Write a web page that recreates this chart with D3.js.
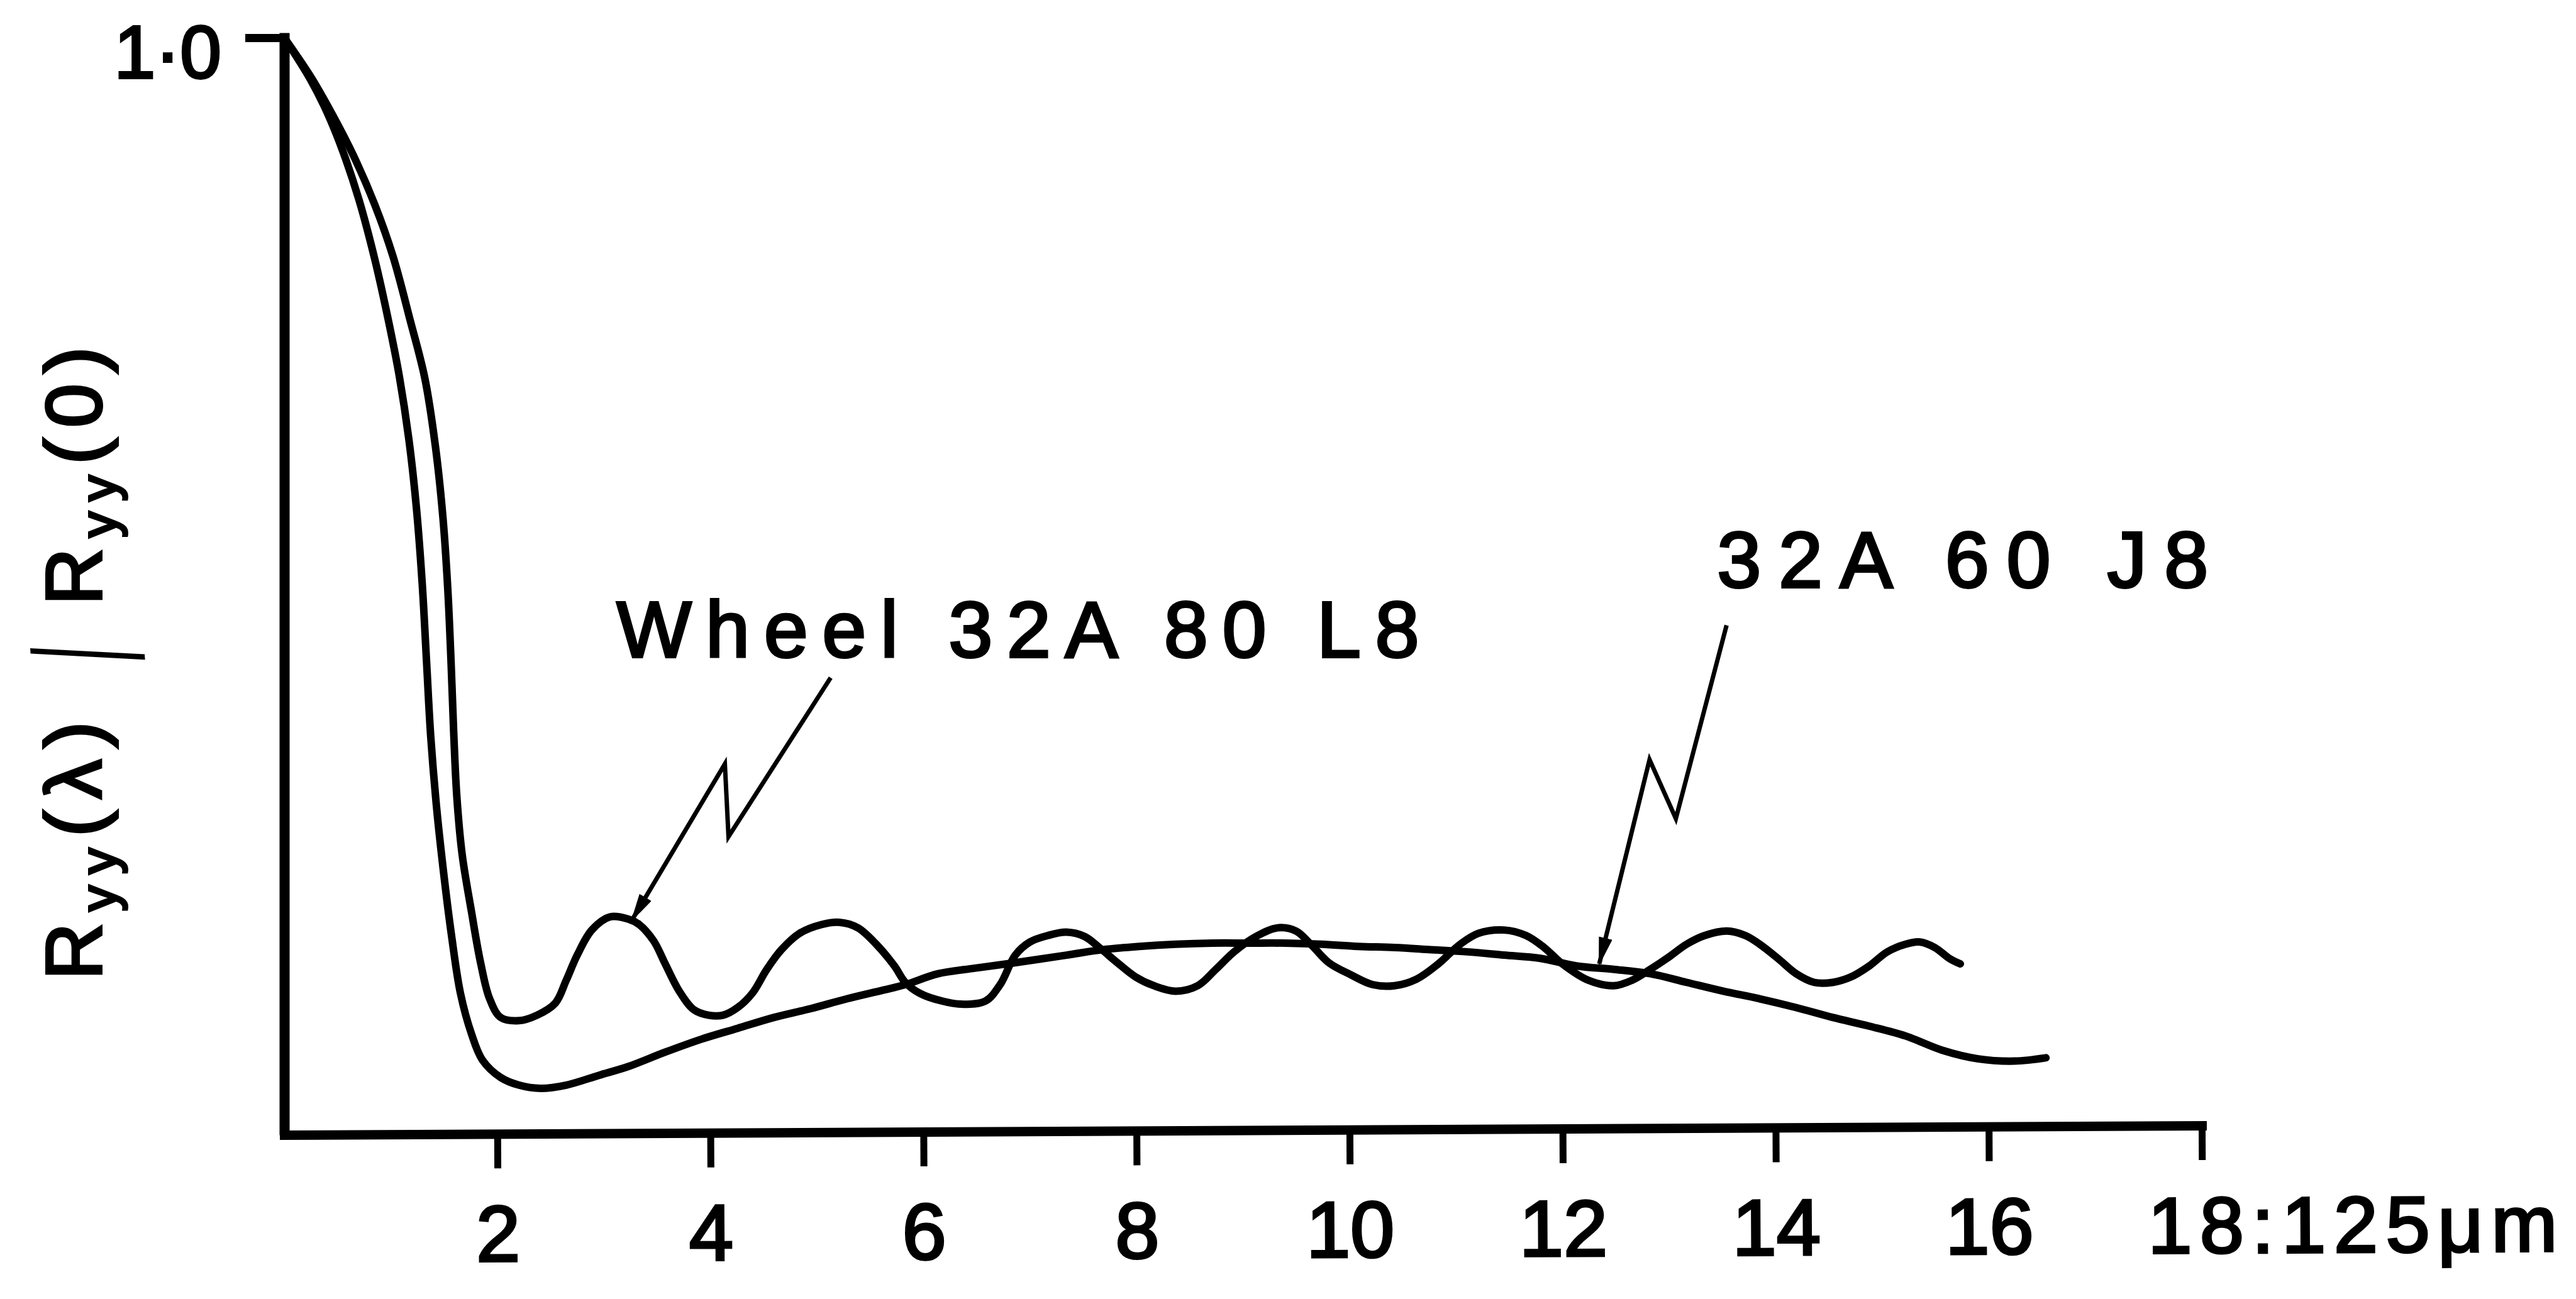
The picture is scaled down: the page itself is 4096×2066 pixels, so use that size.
<!DOCTYPE html>
<html>
<head>
<meta charset="utf-8">
<script src="https://cdn.jsdelivr.net/npm/d3@7"></script>
<style>
  html, body { margin: 0; padding: 0; background: #fff; }
  svg { display: block; }
</style>
</head>
<body>
<script>
const W = 4096, H = 2066;
const FONT = '"Liberation Sans", Arial, Helvetica, sans-serif';

// tick values / labels
const xTicks = [2, 4, 6, 8, 10, 12, 14, 16, 18];
const yTicks = [1];
const xEndLabel = '18:125μm';
const yTickLabel = '1·0';

// [lag, Ryy(λ)/Ryy(0)]
const wheel80L8 = [
  [0, 1.0], [0.25, 0.964], [0.45, 0.930], [0.65, 0.892], [0.85, 0.847], [1.02, 0.800],
  [1.18, 0.742], [1.32, 0.688], [1.42, 0.625], [1.49, 0.560], [1.535, 0.495], [1.565, 0.430],
  [1.59, 0.365], [1.62, 0.305], [1.67, 0.252], [1.757, 0.200], [1.843, 0.153], [1.928, 0.120],
  [2.031, 0.103], [2.202, 0.100], [2.373, 0.105], [2.544, 0.116], [2.647, 0.137], [2.750, 0.160],
  [2.887, 0.183], [3.058, 0.195], [3.229, 0.193], [3.332, 0.188], [3.468, 0.173], [3.571, 0.153],
  [3.708, 0.127], [3.845, 0.110], [3.982, 0.105], [4.119, 0.105], [4.256, 0.112], [4.393, 0.125],
  [4.530, 0.147], [4.667, 0.165], [4.838, 0.180], [5.043, 0.188], [5.214, 0.190], [5.385, 0.185],
  [5.557, 0.170], [5.728, 0.150], [5.830, 0.135], [5.967, 0.125], [6.173, 0.118], [6.378, 0.115],
  [6.583, 0.118], [6.720, 0.133], [6.862, 0.160], [6.999, 0.172], [7.170, 0.178], [7.342, 0.181],
  [7.513, 0.177], [7.650, 0.167], [7.821, 0.153], [7.992, 0.140], [8.163, 0.132], [8.368, 0.127],
  [8.574, 0.132], [8.745, 0.147], [8.916, 0.163], [9.121, 0.177], [9.327, 0.185], [9.498, 0.182],
  [9.635, 0.170], [9.806, 0.153], [10.012, 0.142], [10.217, 0.133], [10.422, 0.132], [10.628, 0.138],
  [10.833, 0.152], [11.039, 0.170], [11.210, 0.180], [11.449, 0.183], [11.655, 0.178], [11.826, 0.167],
  [11.997, 0.152], [12.241, 0.137], [12.481, 0.132], [12.652, 0.137], [12.823, 0.147], [12.994, 0.158],
  [13.165, 0.170], [13.336, 0.178], [13.542, 0.182], [13.713, 0.178], [13.850, 0.170], [14.021, 0.157],
  [14.192, 0.143], [14.363, 0.135], [14.534, 0.135], [14.706, 0.140], [14.877, 0.150], [15.048, 0.163],
  [15.219, 0.170], [15.356, 0.172], [15.493, 0.167], [15.630, 0.157], [15.733, 0.152]
];

const grit60J8 = [
  [0, 1.0], [0.25, 0.961], [0.40, 0.932], [0.55, 0.896], [0.70, 0.852], [0.85, 0.797],
  [0.98, 0.740], [1.08, 0.690], [1.17, 0.632], [1.24, 0.570], [1.295, 0.500], [1.335, 0.430],
  [1.375, 0.360], [1.43, 0.295], [1.50, 0.232], [1.57, 0.178], [1.654, 0.125], [1.757, 0.088],
  [1.860, 0.064], [2.031, 0.048], [2.202, 0.041], [2.407, 0.038], [2.647, 0.041], [2.955, 0.050],
  [3.229, 0.058], [3.571, 0.071], [3.914, 0.083], [4.256, 0.093], [4.598, 0.103], [4.940, 0.111],
  [5.283, 0.120], [5.625, 0.128], [5.830, 0.133], [6.138, 0.143], [6.481, 0.148], [6.857, 0.153],
  [7.342, 0.160], [7.684, 0.165], [8.026, 0.168], [8.368, 0.170], [8.711, 0.171], [9.053, 0.171],
  [9.395, 0.171], [9.737, 0.170], [10.080, 0.168], [10.422, 0.167], [10.765, 0.165], [11.107, 0.163],
  [11.449, 0.160], [11.792, 0.157], [12.138, 0.150], [12.481, 0.147], [12.823, 0.143], [13.165, 0.135],
  [13.507, 0.127], [13.850, 0.120], [14.192, 0.112], [14.534, 0.103], [14.877, 0.095], [15.219, 0.086],
  [15.561, 0.073], [15.904, 0.065], [16.246, 0.063], [16.537, 0.066]
];

const seriesNames = ['Wheel 32A 80 L8', '32A 60 J8'];

// annotations, in data units
const wheelLeader = [[5.129, 0.414], [4.170, 0.2685], [4.136, 0.335], [3.263, 0.192]];
const gritLeader = [[13.539, 0.462], [13.063, 0.285], [12.816, 0.339], [12.344, 0.152]];
const labelAt = [[3.12, 0.433], [13.45, 0.497]];
const labelWidth = [1276, 781];

const svg = d3.select('body').append('svg')
  .attr('width', W)
  .attr('height', H)
  .style('background', '#fff');

const x = d3.scaleLinear().domain([0, 18]).range([452, 3501]);
const y = d3.scaleLinear().domain([0, 1]).range([1797, 60]);
const axisTilt = -0.28; // the printed baseline rises slightly to the right

svg.append('defs').append('marker')
  .attr('id', 'tip')
  .attr('viewBox', '0 0 50 24')
  .attr('refX', 46)
  .attr('refY', 12)
  .attr('markerWidth', 46)
  .attr('markerHeight', 22)
  .attr('markerUnits', 'userSpaceOnUse')
  .attr('orient', 'auto')
  .append('path')
  .attr('d', 'M0,0L50,12L0,24Z')
  .attr('fill', '#000');

// x axis
const xAxis = svg.append('g')
  .attr('transform', `translate(0,${y(0) + 8}) rotate(${axisTilt},${x(0)},0)`)
  .call(d3.axisBottom(x)
    .tickValues(xTicks)
    .tickSize(55)
    .tickSizeOuter(0)
    .tickPadding(58)
    .tickFormat(d => d === 18 ? xEndLabel : d))
  .attr('font-family', FONT)
  .attr('font-size', 126);

xAxis.select('.domain').attr('stroke-width', 15).attr('stroke-linecap', 'square');
xAxis.selectAll('.tick line').attr('stroke-width', 11);
xAxis.selectAll('.tick text').attr('stroke', '#000').attr('stroke-width', 4);
xAxis.selectAll('.tick text')
  .filter(d => d === 18)
  .attr('text-anchor', 'start')
  .attr('x', -87)
  .attr('textLength', 651)
  .attr('lengthAdjust', 'spacing');

// y axis
const yAxis = svg.append('g')
  .attr('transform', `translate(${x(0)},0)`)
  .call(d3.axisLeft(y)
    .tickValues(yTicks)
    .tickSize(62)
    .tickSizeOuter(0)
    .tickPadding(38)
    .tickFormat(() => yTickLabel))
  .attr('font-family', FONT)
  .attr('font-size', 118);

yAxis.select('.domain').attr('stroke-width', 16).attr('stroke-linecap', 'square');
yAxis.selectAll('.tick line').attr('stroke-width', 13);
yAxis.selectAll('.tick text')
  .attr('dy', '0.54em')
  .attr('stroke', '#000')
  .attr('stroke-width', 4);

// curves
const line = d3.line()
  .x(d => x(d[0]))
  .y(d => y(d[1]))
  .curve(d3.curveCatmullRom.alpha(0.5));

svg.append('g')
  .selectAll('path')
  .data([wheel80L8, grit60J8])
  .join('path')
  .attr('d', line)
  .attr('fill', 'none')
  .attr('stroke', '#000')
  .attr('stroke-width', 12)
  .attr('stroke-linejoin', 'round')
  .attr('stroke-linecap', 'round');

// zig-zag leaders
const leader = d3.line()
  .x(d => x(d[0]))
  .y(d => y(d[1]));

svg.append('g')
  .selectAll('path')
  .data([wheelLeader, gritLeader])
  .join('path')
  .attr('d', leader)
  .attr('fill', 'none')
  .attr('stroke', '#000')
  .attr('stroke-width', 7)
  .attr('stroke-linejoin', 'miter')
  .attr('marker-end', 'url(#tip)');

svg.append('g')
  .attr('font-family', FONT)
  .attr('font-size', 126)
  .attr('stroke', '#000')
  .attr('stroke-width', 4)
  .selectAll('text')
  .data(seriesNames)
  .join('text')
  .attr('x', (d, i) => x(labelAt[i][0]))
  .attr('y', (d, i) => y(labelAt[i][1]))
  .attr('textLength', (d, i) => labelWidth[i])
  .attr('lengthAdjust', 'spacing')
  .text(d => d);

// y title: Ryy(λ) / Ryy(0)
const yTitle = svg.append('g')
  .attr('font-family', FONT)
  .attr('font-size', 126);

const titlePart = (cy, arg) => {
  const t = yTitle.append('text')
    .attr('transform', `translate(161,${cy}) rotate(-90)`)
    .attr('text-anchor', 'middle')
    .attr('stroke', '#000')
    .attr('stroke-width', 4)
    .attr('textLength', 411)
    .attr('lengthAdjust', 'spacing');
  t.append('tspan').text('R');
  t.append('tspan').attr('font-size', 82).attr('dy', 24).text('yy');
  t.append('tspan').attr('dy', -24).text(`(${arg})`);
};
titlePart(1353, 'λ');
titlePart(757, '0');

// the long, thin divider stroke
yTitle.append('text')
  .attr('transform', 'translate(140,1040) rotate(-94) scale(1,2.2)')
  .attr('text-anchor', 'middle')
  .attr('font-size', 112)
  .attr('dy', '0.355em')
  .text('/');
</script>
</body>
</html>
